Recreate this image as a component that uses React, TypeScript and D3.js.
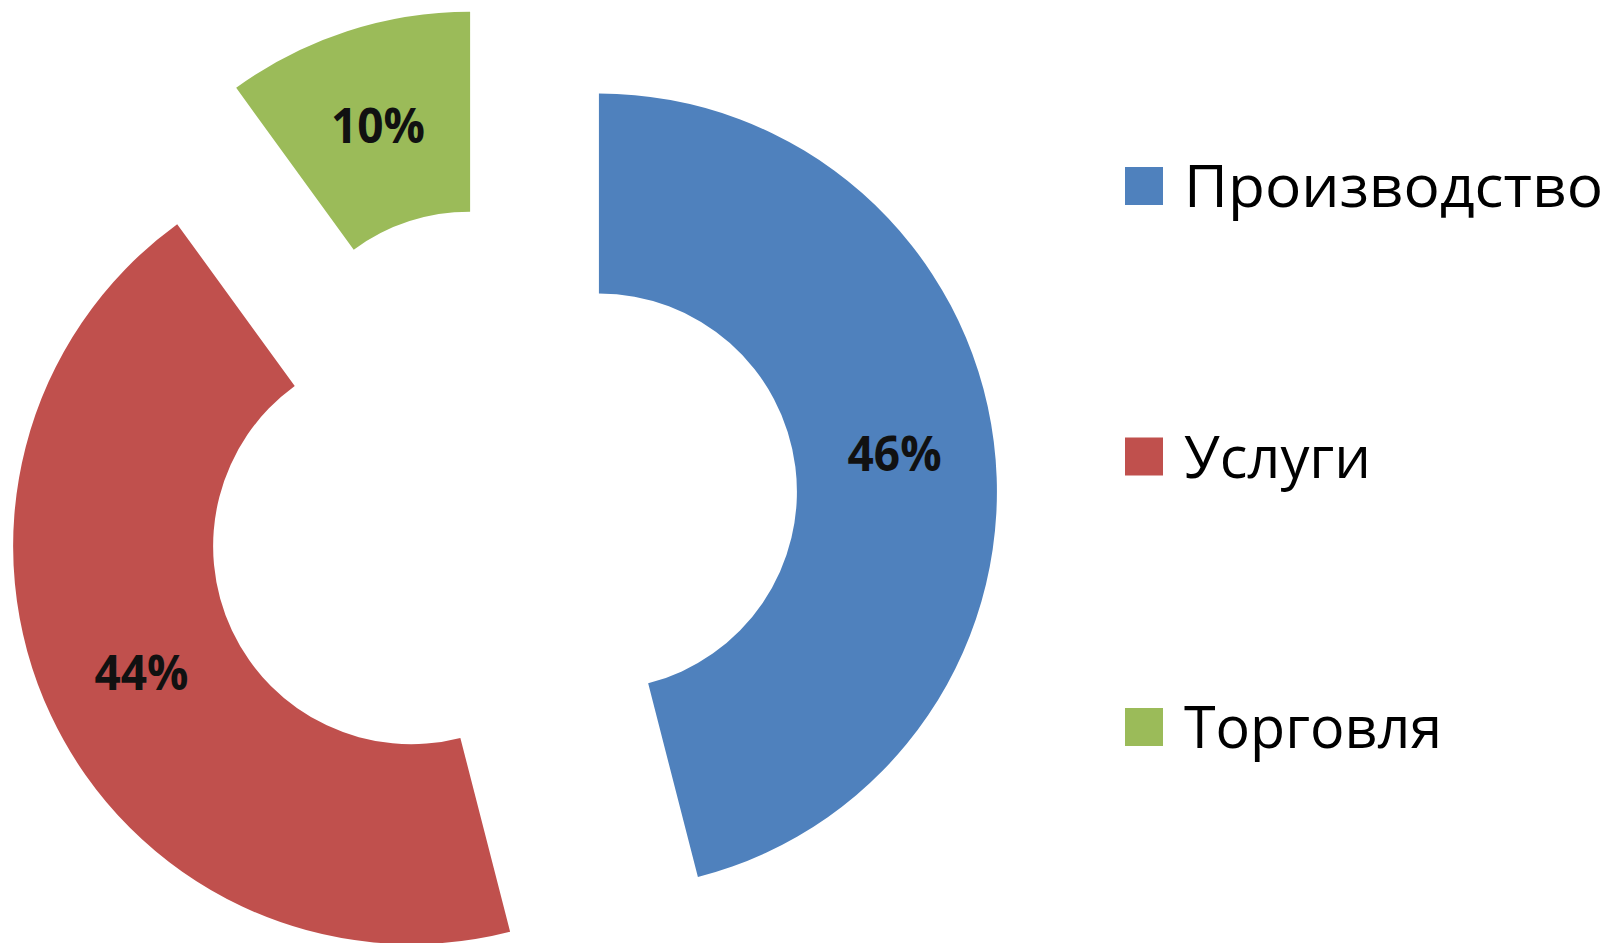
import React from "react";
import * as d3 from "d3";

const categories = ["Производство", "Услуги", "Торговля"];
const values = [46, 44, 10];
const labels = ["46%", "44%", "10%"];
const colors = ["#4F81BD", "#C0504D", "#9BBB59"];

export default function App() {
  const W = 1610;
  const H = 943;
  const cx = 500.7;
  const cy = 504;
  const R = 398;
  const r = 198;
  const explode = 99;

  const pie = d3.pie<number>().sort(null).startAngle(0).endAngle(2 * Math.PI);
  const arcs = pie(values);
  const arc = d3.arc<d3.PieArcDatum<number>>().innerRadius(r).outerRadius(R);

  const legendY = d3.scalePoint<string>().domain(categories).range([186, 727]);
  const legendTextLen = [419, 187, 258];

  return (
    <svg
      width={W}
      height={H}
      style={{ position: "absolute", left: 0, top: 0, background: "#fff" }}
    >
      {arcs.map((a, i) => {
        const mid = (a.startAngle + a.endAngle) / 2;
        const ox = cx + explode * Math.sin(mid);
        const oy = cy - explode * Math.cos(mid);
        const [lx, ly] = arc.centroid(a);
        return (
          <g key={i} transform={`translate(${ox},${oy})`}>
            <path d={arc(a) || ""} fill={colors[i]} />
            <text
              x={lx}
              y={ly + 17}
              textAnchor="middle"
              fontFamily="'Open Sans', sans-serif"
              fontWeight="bold"
              fontSize={48}
              fill="#111"
              textLength={94}
              lengthAdjust="spacingAndGlyphs"
            >
              {labels[i]}
            </text>
          </g>
        );
      })}
      {categories.map((c, i) => {
        const y = legendY(c) as number;
        return (
          <g key={c}>
            <rect x={1125} y={y - 19} width={38} height={38} fill={colors[i]} />
            <text
              x={1184}
              y={y + 21}
              fontFamily="'Open Sans', sans-serif"
              fontSize={59}
              fill="#000"
              textLength={legendTextLen[i]}
              lengthAdjust="spacingAndGlyphs"
            >
              {c}
            </text>
          </g>
        );
      })}
    </svg>
  );
}
